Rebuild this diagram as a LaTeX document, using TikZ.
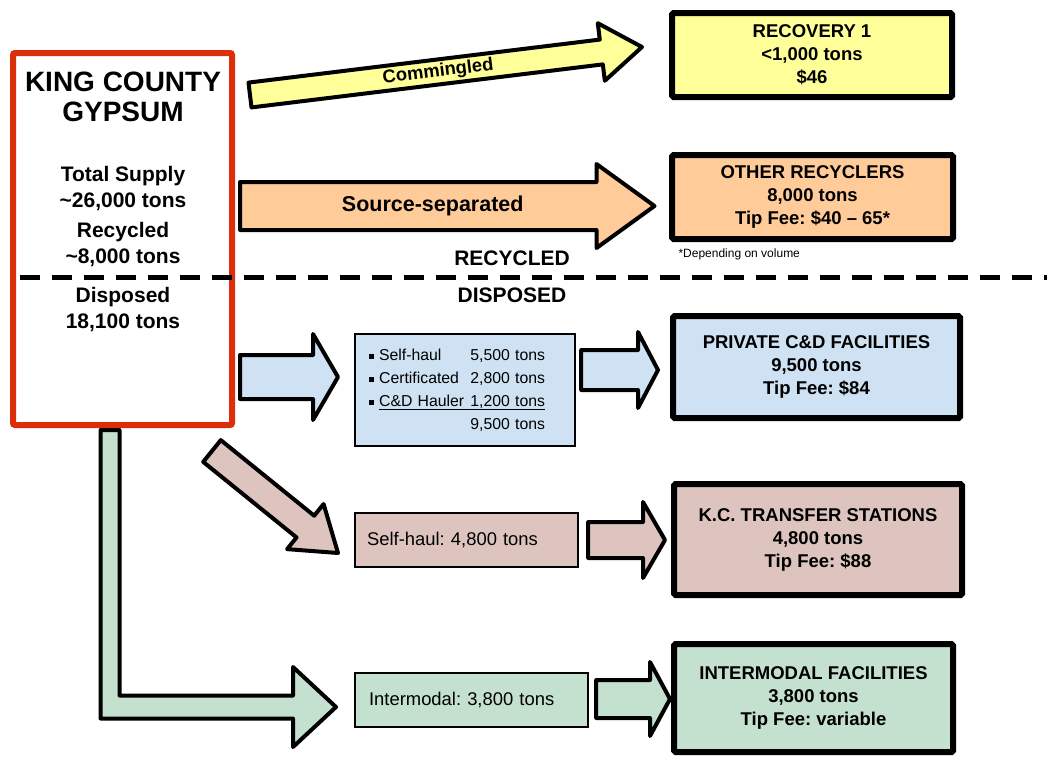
\documentclass[tikz,border=0pt]{standalone}
\usepackage{fontspec}
\setmainfont{Liberation Sans}
\usetikzlibrary{calc}
\definecolor{redline}{RGB}{220,46,10}
\definecolor{yellowfill}{RGB}{255,255,153}
\definecolor{orangefill}{RGB}{255,204,153}
\definecolor{bluefill}{RGB}{207,226,243}
\definecolor{brownfill}{RGB}{221,196,191}
\definecolor{greenfill}{RGB}{196,224,206}
\tikzset{
  fatarrow/.style={draw, line width=4pt, line join=round},
  result/.style={draw, line width=6pt, rounded corners=1.5pt, align=center, inner sep=0pt,
    font=\bfseries\fontsize{18.5}{23}\selectfont},
  subbox/.style={draw, line width=2.2pt, anchor=west, align=left, inner ysep=0pt,
    font=\fontsize{18.4}{22}\selectfont},
  bigtext/.style={align=center, font=\bfseries\fontsize{21}{26}\selectfont},
}
% fill, tail, tip, shaft half width, head half width, head length
\newcommand{\blockarrow}[6]{%
  \coordinate (hb) at ($(#3)!#6!(#2)$);
  \draw[fatarrow, fill=#1] ($(#2)!#4!90:(#3)$) -- ($(hb)!#4!90:(#3)$)
    -- ($(hb)!#5!90:(#3)$) -- (#3) -- ($(hb)!#5!-90:(#3)$)
    -- ($(hb)!#4!-90:(#3)$) -- ($(#2)!#4!-90:(#3)$) -- cycle;
}
\newcommand{\blt}{\rule[1.5pt]{5pt}{5pt}\hspace{5pt}}
\frenchspacing

\begin{document}
\begin{tikzpicture}[x=1pt, y=-1pt]
  \useasboundingbox (0,0) rectangle (1047,756);
  % source
  \node[draw=redline, line width=6pt, rounded corners=2pt, minimum width=219pt, minimum height=372pt] (gyp) at (122.5,239) {};
  \node[align=center, font=\bfseries\fontsize{28}{30}\selectfont] (title) at (123,97) {KING COUNTY\\GYPSUM};
  \node[bigtext] (supply) at (123,189) {Total Supply\\\textasciitilde26,000 tons};
  \node[bigtext] (recyc) at (123,245) {Recycled\\\textasciitilde8,000 tons};
  \node[bigtext] (disp) at (123,310) {Disposed\\18,100 tons};
  % destinations
  \node[result, fill=yellowfill, minimum width=280pt, minimum height=84pt] (rec) at (812,55) {RECOVERY 1\\<1,000 tons\\\$46};
  \node[result, fill=orangefill, minimum width=281pt, minimum height=84pt] (oth) at (812.5,197) {OTHER RECYCLERS\\8,000 tons\\Tip Fee: \$40 \textendash{} 65*};
  \node[anchor=west, font=\fontsize{12}{14}\selectfont] (note) at (675,254) {*Depending on volume};
  \node[result, fill=bluefill, minimum width=287pt, minimum height=102pt] (priv) at (816.5,367) {PRIVATE C\&D FACILITIES\\9,500 tons\\Tip Fee: \$84};
  \node[result, fill=brownfill, minimum width=288pt, minimum height=111pt] (kcts) at (818,539.5) {K.C. TRANSFER STATIONS\\4,800 tons\\Tip Fee: \$88};
  \node[result, fill=greenfill, minimum width=279pt, minimum height=108pt] (imod) at (813.5,698) {INTERMODAL FACILITIES\\3,800 tons\\Tip Fee: variable};
  % haulers
  \node[subbox, fill=bluefill, inner xsep=14pt, text width=192pt, minimum height=112pt,
    font=\fontsize{15.8}{23}\selectfont] (haullist) at (354,390)
    {\blt\makebox[166pt][l]{Self-haul\hfill 5,500 tons}\\
     \blt\makebox[166pt][l]{Certificated\hfill 2,800 tons}\\
     \blt\underline{\makebox[166pt][l]{C\&D Hauler\hfill 1,200 tons}}\\
     \hspace{10pt}\makebox[166pt][r]{9,500 tons}};
  \node[subbox, fill=brownfill, inner xsep=12pt, text width=199pt, minimum height=54pt] (selfhaul) at (354,540) {Self-haul: 4,800 tons};
  \node[subbox, fill=greenfill, inner xsep=14pt, text width=205pt, minimum height=54pt] (intermodal) at (354,700) {Intermodal: 3,800 tons};
  % arrow ends
  \coordinate (cm-tail) at ($(gyp.east)+(15,-144)$);
  \coordinate (cm-tip) at ($(rec.west)+(-27,-8)$);
  \coordinate (ss-tail) at ($(gyp.east)+(5,-33)$);
  \coordinate (ss-tip) at ($(oth.west)+(-14.5,9)$);
  \coordinate (pv-tail) at ($(gyp.east)+(5,138)$);
  \coordinate (pv-tip) at ($(haullist.west)+(-16,-13)$);
  \coordinate (sh-tail) at ($(gyp.south)+(89.5,23)$);
  \coordinate (sh-tip) at ($(selfhaul.west)+(-16,13)$);
  \coordinate (lt) at ($(gyp.south)+(-12.5,2)$);
  \coordinate (lh) at ($(intermodal.west)+(-18,7)$);
  \blockarrow{yellowfill}{cm-tail}{cm-tip}{12.5pt}{29pt}{41pt}
  \blockarrow{orangefill}{ss-tail}{ss-tip}{24pt}{42pt}{58pt}
  \blockarrow{bluefill}{pv-tail}{pv-tip}{22pt}{43pt}{25pt}
  \blockarrow{brownfill}{sh-tail}{sh-tip}{14pt}{29pt}{42pt}
  \blockarrow{bluefill}{$(haullist.east)+(5,-20)$}{$(priv.west)+(-12,3)$}{20pt}{38pt}{20pt}
  \blockarrow{brownfill}{$(selfhaul.east)+(9,0)$}{$(kcts.west)+(-6,0.5)$}{18pt}{38pt}{22pt}
  \blockarrow{greenfill}{$(intermodal.east)+(7,-1)$}{$(imod.west)+(-1,1)$}{19pt}{37pt}{20pt}
  \draw[fatarrow, fill=greenfill] ($(lt)+(-9.5,0)$) -- ($(lt|-lh)+(-9.5,11.5)$)
    -- ($(lh)+(-43,11.5)$) -- ($(lh)+(-43,40)$) -- (lh) -- ($(lh)+(-43,-40)$)
    -- ($(lh)+(-43,-11.5)$) -- ($(lt|-lh)+(9.5,-11.5)$) -- ($(lt)+(9.5,0)$) -- cycle;
  \node[rotate=7, font=\bfseries\fontsize{18.4}{22}\selectfont] (cmlabel) at ($(cm-tail)!0.48!(cm-tip)$) {Commingled};
  \node[font=\bfseries\fontsize{21.5}{26}\selectfont] (sslabel) at ($(ss-tail)!0.465!(ss-tip)$) {Source-separated};
  % divider
  \draw[line width=5pt, dash pattern=on 20pt off 12pt] (20,277) -- (1047,277);
  \node[bigtext] (lblrec) at (512,258) {RECYCLED};
  \node[bigtext] (lbldis) at (512,295) {DISPOSED};
\end{tikzpicture}
\end{document}
